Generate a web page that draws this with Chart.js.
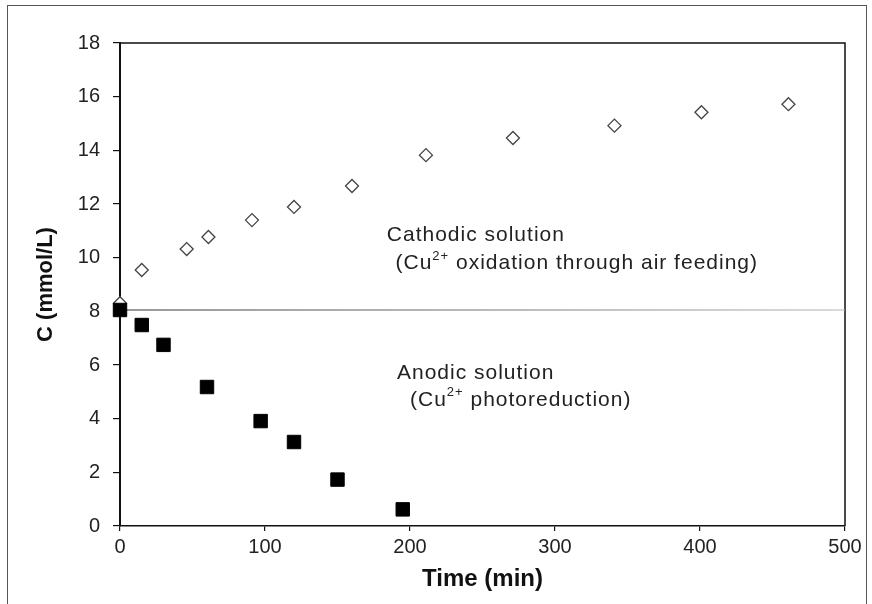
<!DOCTYPE html>
<html>
<head>
<meta charset="utf-8">
<script src="https://cdn.jsdelivr.net/npm/chart.js@4/dist/chart.umd.min.js"></script>
<style>
  html, body { margin: 0; padding: 0; background: #fff; }
  #wrap { position: relative; width: 872px; height: 604px; }
  #frame { position: absolute; left: 7px; top: 5px; width: 860px; height: 610px;
           border: 1px solid #555; box-sizing: border-box; }
  #myChart { position: absolute; left: 0; top: 0; }
</style>
</head>
<body>
<div id="wrap">
  <div id="frame"></div>
  <canvas id="myChart" width="872" height="604"></canvas>
</div>
<script>
// cathodic solution (open diamonds)
const cathodeTime = [0, 15, 46, 61, 91, 120, 160, 211, 271, 341, 401, 461];
const cathodeConc = [8.3, 9.54, 10.32, 10.77, 11.4, 11.89, 12.67, 13.82, 14.46, 14.92, 15.42, 15.72];

// anodic solution (filled squares)
const anodeTime = [0, 15, 30, 60, 97, 120, 150, 195];
const anodeConc = [8.05, 7.49, 6.75, 5.18, 3.91, 3.13, 1.73, 0.62];

// initial concentration reference line
const refTime = [0, 500];
const refConc = [8.05, 8.05];

const xTicks = [0, 100, 200, 300, 400, 500];
const yTicks = [0, 2, 4, 6, 8, 10, 12, 14, 16, 18];

function toPoints(xs, ys) {
    return xs.map((x, i) => ({x: x, y: ys[i]}));
}

const FONT = "'Liberation Sans', Arial, sans-serif";

// annotation text, placed in data units
const notes = [
    {x: 184, y: 10.85, parts: [['Cathodic solution']]},
    {x: 190, y: 9.8, parts: [['(Cu'], ['2+', true], [' oxidation through air feeding)']]},
    {x: 191, y: 5.7, parts: [['Anodic solution']]},
    {x: 200, y: 4.7, parts: [['(Cu'], ['2+', true], [' photoreduction)']]}
];

const decorPlugin = {
    id: 'decor',
    beforeDatasetsDraw(chart) {
        const {ctx, chartArea} = chart;
        ctx.save();
        ctx.strokeStyle = '#111';
        ctx.lineWidth = 1.5;
        ctx.beginPath();
        ctx.moveTo(chartArea.left, chartArea.top);
        ctx.lineTo(chartArea.right, chartArea.top);
        ctx.lineTo(chartArea.right, chartArea.bottom);
        ctx.stroke();
        ctx.restore();
    },
    afterDraw(chart) {
        const ctx = chart.ctx;
        const xs = chart.scales.x, ys = chart.scales.y;
        ctx.save();
        ctx.fillStyle = '#222';
        ctx.textBaseline = 'middle';
        ctx.textAlign = 'left';
        try { ctx.letterSpacing = '1px'; } catch (e) {}
        notes.forEach(n => {
            let px = xs.getPixelForValue(n.x);
            const py = ys.getPixelForValue(n.y);
            n.parts.forEach(p => {
                if (p[1]) {
                    ctx.font = '13px ' + FONT;
                    ctx.fillText(p[0], px, py - 7);
                } else {
                    ctx.font = '21px ' + FONT;
                    ctx.fillText(p[0], px, py);
                }
                px += ctx.measureText(p[0]).width;
            });
        });
        ctx.restore();
    }
};

var ctx = document.getElementById('myChart').getContext('2d');
var myChart = new Chart(ctx, {
    type: 'scatter',
    data: {
        datasets: [{
            label: 'Anodic solution',
            data: toPoints(anodeTime, anodeConc),
            pointStyle: 'rect',
            pointRadius: 9.5,
            pointHoverRadius: 9.5,
            backgroundColor: '#000',
            borderColor: '#000',
            borderWidth: 1,
            clip: false,
            order: 1
        }, {
            label: 'Cathodic solution',
            data: toPoints(cathodeTime, cathodeConc),
            pointStyle: 'rectRot',
            pointRadius: 6.5,
            pointHoverRadius: 6.5,
            backgroundColor: '#fff',
            borderColor: '#444',
            borderWidth: 1.3,
            clip: false,
            order: 2
        }, {
            label: 'ref',
            type: 'line',
            data: toPoints(refTime, refConc),
            showLine: true,
            pointRadius: 0,
            borderWidth: 1.2,
            borderColor: function(c) {
                const area = c.chart.chartArea;
                if (!area) return '#666';
                const g = c.chart.ctx.createLinearGradient(area.left, 0, area.right, 0);
                g.addColorStop(0, '#333');
                g.addColorStop(1, '#b5b5b5');
                return g;
            },
            order: 3
        }]
    },
    options: {
        responsive: false,
        animation: false,
        events: [],
        layout: {padding: {left: 0, right: 27, top: 43, bottom: 0}},
        plugins: {legend: {display: false}, tooltip: {enabled: false}},
        scales: {
            x: {
                type: 'linear',
                min: 0, max: 500,
                afterBuildTicks: s => { s.ticks = xTicks.map(v => ({value: v})); },
                afterFit: s => { s.height = 78; },
                grid: {display: true, drawOnChartArea: false, drawTicks: true, tickLength: 5, color: '#111', lineWidth: 1.2},
                border: {display: true, color: '#111', width: 1.5},
                ticks: {color: '#222', padding: 4, font: {family: FONT, size: 20}, maxRotation: 0},
                title: {display: true, text: 'Time (min)', color: '#111',
                        font: {family: FONT, size: 24, weight: 'bold'}, padding: {top: 0, bottom: 10}}
            },
            y: {
                type: 'linear',
                min: 0, max: 18,
                afterBuildTicks: s => { s.ticks = yTicks.map(v => ({value: v})); },
                afterFit: s => { s.width = 120; },
                grid: {display: true, drawOnChartArea: false, drawTicks: true, tickLength: 7, color: '#111', lineWidth: 1.2},
                border: {display: true, color: '#111', width: 2},
                ticks: {color: '#222', padding: 13, font: {family: FONT, size: 20}},
                title: {display: true, text: 'C (mmol/L)', color: '#111',
                        font: {family: FONT, size: 22, weight: 'bold'}, padding: {top: 33, bottom: 0}}
            }
        }
    },
    plugins: [decorPlugin]
});
</script>
</body>
</html>
